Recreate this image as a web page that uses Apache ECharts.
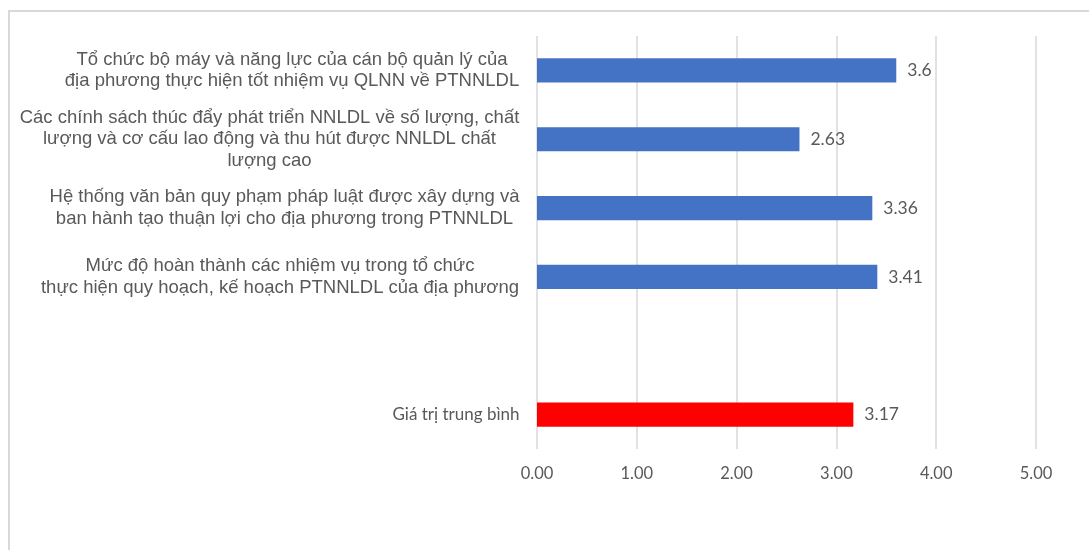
<!DOCTYPE html>
<html>
<head>
<meta charset="utf-8">
<script src="https://cdn.jsdelivr.net/npm/echarts@6/dist/echarts.min.js"></script>
<style>
  html, body { margin: 0; padding: 0; background: #ffffff; }
  #chart { width: 1089px; height: 550px; }
</style>
</head>
<body>
<div id="chart"></div>
<script>
// Criteria (top to bottom); the empty entry leaves a gap before the average row
const categories = [
  'Tổ chức bộ máy và năng lực của cán bộ quản lý của\nđịa phương thực hiện tốt nhiệm vụ QLNN về PTNNLDL',
  'Các chính sách thúc đẩy phát triển NNLDL về số lượng, chất\nlượng và cơ cấu lao động và thu hút được NNLDL chất\nlượng cao',
  'Hệ thống văn bản quy phạm pháp luật được xây dựng và\nban hành tạo thuận lợi cho địa phương trong PTNNLDL',
  'Mức độ hoàn thành các nhiệm vụ trong tổ chức\nthực hiện quy hoạch, kế hoạch PTNNLDL của địa phương',
  '',
  'Giá trị trung bình'
];
const scores = [3.6, 2.63, 3.36, 3.41, null, 3.17];
const averageIndex = 5;
const xTicks = [0, 1, 2, 3, 4, 5];

const GREY = '#595959';
const LABEL_FONT = '"Liberation Sans", Arial, sans-serif';
const NUM_FONT = 'Lato, "Open Sans", sans-serif';

// Measure each multi-line label so its lines can be centred inside a right-aligned block
const measureCtx = document.createElement('canvas').getContext('2d');
function blockWidth(text, font) {
  measureCtx.font = font;
  return Math.ceil(Math.max(...text.split('\n').map(l => measureCtx.measureText(l).width)));
}
const rich = {};
categories.forEach((c, i) => {
  const isAvg = i === averageIndex;
  const size = isAvg ? 17 : 18.5;
  const family = isAvg ? NUM_FONT : LABEL_FONT;
  rich['c' + i] = {
    width: c ? blockWidth(c, size + 'px ' + family) + 1 : 0,
    align: 'center',
    fontFamily: family,
    fontSize: size,
    lineHeight: 21.5,
    color: GREY
  };
});

const chart = echarts.init(document.getElementById('chart'), null, { renderer: 'canvas' });
chart.setOption({
  animation: false,
  backgroundColor: '#ffffff',
  graphic: [{
    type: 'rect',
    shape: { x: 9, y: 11, width: 1100, height: 560 },
    style: { fill: 'none', stroke: '#d9d9d9', lineWidth: 2 },
    silent: true,
    z: -1
  }],
  grid: { left: 537, right: 53, top: 36, bottom: 101 },
  xAxis: {
    type: 'value',
    min: xTicks[0],
    max: xTicks[xTicks.length - 1],
    interval: 1,
    axisLine: { show: false },
    axisTick: { show: false },
    axisLabel: {
      margin: 16,
      color: GREY,
      fontFamily: NUM_FONT,
      fontSize: 16.5,
      formatter: v => v.toFixed(2)
    },
    splitLine: { show: true, lineStyle: { color: '#d9d9d9', width: 1.5 } }
  },
  yAxis: {
    type: 'category',
    data: categories,
    inverse: true,
    axisLine: { show: false },
    axisTick: { show: false },
    axisLabel: {
      margin: 17,
      align: 'right',
      interval: 0,
      formatter: (value, idx) => value ? value.split('\n').map(l => '{c' + idx + '|' + l + '}').join('\n') : '',
      rich: rich
    }
  },
  series: [{
    type: 'bar',
    data: scores.map((v, i) => ({
      value: v,
      itemStyle: { color: i === averageIndex ? '#ff0000' : '#4472c4' }
    })),
    barCategoryGap: '65%',
    label: {
      show: true,
      position: 'right',
      distance: 11,
      color: GREY,
      fontFamily: NUM_FONT,
      fontSize: 17.5
    }
  }]
});
</script>
</body>
</html>
